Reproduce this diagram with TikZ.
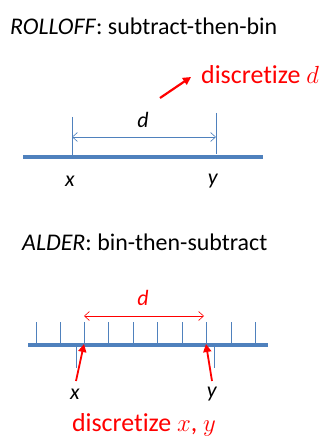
\documentclass[tikz,border=0pt]{standalone}
\usepackage{fontspec}
\setmainfont[Ligatures=NoCommon]{Carlito}
\usetikzlibrary{arrows.meta}
\definecolor{lblue}{RGB}{79,129,189}
\definecolor{lred}{RGB}{255,0,0}
\tikzset{
  axis/.style={line width=4bp, draw=lblue},
  tick/.style={line width=0.6bp, draw=lblue},
  txt/.style={inner sep=0pt, font=\fontsize{24}{27}\selectfont},
  lbl/.style={inner sep=0pt, font=\fontsize{22}{25}\selectfont},
  redtxt/.style={inner sep=0pt, text=lred, font=\fontsize{26}{30}\selectfont},
  dimarrow/.style={line width=0.6bp, {Straight Barb[length=5bp,width=9bp]}-{Straight Barb[length=5bp,width=9bp]}},
  ptr/.style={line width=2.2bp, draw=lred, -{Triangle[length=8bp,width=8bp]}}
}
\begin{document}
\begin{tikzpicture}[x=1bp,y=-1bp]
\useasboundingbox (0,0) rectangle (327,438);
% top
\node[txt, anchor=west] (t1) at (10,26) {\textit{ROLLOFF}: subtract-then-bin};
\coordinate (a1) at (23,157);
\coordinate (a2) at (263,157);
\draw[axis] (a1) -- (a2);
\coordinate (xt) at (72,117);
\coordinate (xb) at (72,157);
\coordinate (yt) at (216,113);
\coordinate (yb) at (216,154);
\draw[tick] (xt) -- (xb);
\draw[tick] (yt) -- (yb);
\coordinate (dl) at (72,137);
\coordinate (dr) at (216,137);
\draw[dimarrow, draw=lblue] (dl) -- (dr);
\node[lbl] (d1) at (143,120) {\textit{d}};
\node[lbl] (x1) at (70,181) {\textit{x}};
\node[lbl] (y1) at (213,181) {\textit{y}};
\node[redtxt, anchor=west] (disc1) at (201,75) {discretize $d$};
\coordinate (p1) at (160,98);
\coordinate (p2) at (191,77);
\draw[ptr] (p1) -- (p2);
% bottom
\node[txt, anchor=west] (t2) at (22,242) {\textit{ALDER}: bin-then-subtract};
\coordinate (b1) at (28,345);
\coordinate (b2) at (268,345);
\foreach \t in {36,60,84,108,133,157,182,206,231,255}{
  \draw[tick] (\t,322) -- (\t,345);
}
\draw[tick] (76,345) -- (76,368);
\draw[tick] (214,345) -- (214,368);
\draw[axis] (b1) -- (b2);
\coordinate (el) at (84,316);
\coordinate (er) at (204,316);
\draw[dimarrow, draw=lred] (el) -- (er);
\node[lbl, text=lred] (d2) at (143,298) {\textit{d}};
\node[lbl] (x2) at (75,394) {\textit{x}};
\node[lbl] (y2) at (212,394) {\textit{y}};
\coordinate (q1) at (76,381);
\coordinate (q2) at (84,344);
\coordinate (r1) at (212,381);
\coordinate (r2) at (206,344);
\draw[ptr, line width=1.8bp] (q1) -- (q2);
\draw[ptr, line width=1.8bp] (r1) -- (r2);
\node[redtxt, anchor=base] (disc2) at (144,431) {discretize $x$, $y$};
\end{tikzpicture}
\end{document}
